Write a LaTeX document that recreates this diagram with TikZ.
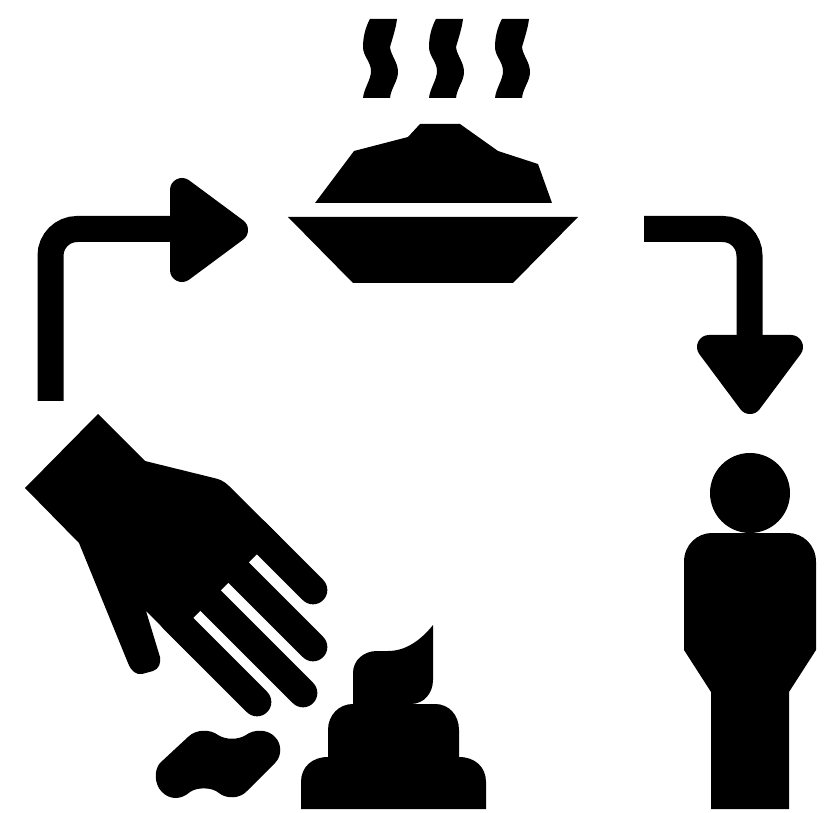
\documentclass[tikz,border=0pt]{standalone}
\tikzset{
  px/.style={x=0.75pt,y=-0.75pt},
  shapefill/.style={fill=black,draw=none},
  bendline/.style={draw=black,line width=19.5pt,rounded corners=20pt,line cap=butt},
  headfill/.style={fill=black,draw=black,line width=18pt,line join=round},
  fingerline/.style={draw=black,line width=21.5pt,line cap=round}
}
\begin{document}
\begin{tikzpicture}[px]
\useasboundingbox (0,0) rectangle (826,813);
% steam
\foreach \dx in {0,66,132}{
  \fill[xshift=\dx*0.75pt] (370,19) .. controls (365,28) and (363,38) .. (363,47)
    .. controls (363,56) and (371,62) .. (371,71)
    .. controls (371,80) and (364,88) .. (363,98)
    -- (390,98) .. controls (391,88) and (398,81) .. (398,72)
    .. controls (398,62) and (391,56) .. (390,47)
    .. controls (392,40) and (396,28) .. (397,19) -- cycle;
}
% food and bowl
\path[shapefill] (315,203) -- (354,151) -- (408,137) -- (420,124) -- (460,124) -- (498,151) -- (538,164) -- (552,203) -- cycle;
\path[shapefill] (288,217) -- (578,217) -- (513,283) -- (353,283) -- cycle;
% left arrow
\draw[bendline] (50.5,401) -- (50.5,229) -- (180,229);
\path[headfill] (182,190) -- (236,230) -- (182,270) -- cycle;
% right arrow
\draw[bendline] (644,229) -- (749.5,229) -- (749.5,350);
\path[headfill] (709,347) -- (791,347) -- (750,402) -- cycle;
% person
\path[shapefill] (750,493) circle[radius=40];
\path[shapefill] (684,650) -- (684,562) .. controls (684,545) and (697,533) .. (712,533)
  -- (788,533) .. controls (803,533) and (816,545) .. (816,562)
  -- (816,650) -- (789,692) -- (789,809) -- (711,809) -- (711,692) -- cycle;
% hand
\path[shapefill] (98,414) -- (25,488) -- (79,543) -- (128,663)
  .. controls (131,671) and (136,675) .. (142,674) -- (153,671)
  .. controls (159,669) and (161,663) .. (160,657)
  -- (146,611) -- (193,658) -- (193,618) -- (249,562) -- (270,541) -- (280,537) -- (229,486)
  .. controls (224,481) and (219,479) .. (214,478) -- (145,461) -- cycle;
\draw[fingerline] (257,702) -- (173,618);
\draw[fingerline] (303,693) -- (203,593);
\draw[fingerline] (313,647) -- (225,559);
\draw[fingerline] (313,590) -- (255,532);
% blob
\fill (160,763) -- (188,737) .. controls (196,729) and (210,729) .. (218,735)
  .. controls (226,740) and (238,740) .. (246,735)
  .. controls (254,729) and (268,729) .. (275,737)
  .. controls (282,744) and (282,756) .. (275,763)
  -- (247,791) .. controls (240,799) and (226,799) .. (219,793)
  .. controls (212,787) and (197,787) .. (190,792)
  .. controls (181,800) and (170,800) .. (162,792)
  .. controls (154,784) and (154,770) .. (160,763) -- cycle;
% heap
\path[shapefill] (301,809) -- (301,782) .. controls (301,767) and (312,757) .. (328,757)
  -- (328,730) .. controls (328,715) and (339,704) .. (353,704)
  -- (353,673) .. controls (353,660) and (364,651) .. (377,651)
  -- (388,651) .. controls (406,651) and (421,640) .. (433,625)
  -- (433,680) .. controls (433,693) and (424,704) .. (411,704)
  -- (435,704) .. controls (449,704) and (459,715) .. (459,730)
  -- (459,757) .. controls (475,757) and (486,767) .. (486,782)
  -- (486,809) -- cycle;
\end{tikzpicture}
\end{document}
